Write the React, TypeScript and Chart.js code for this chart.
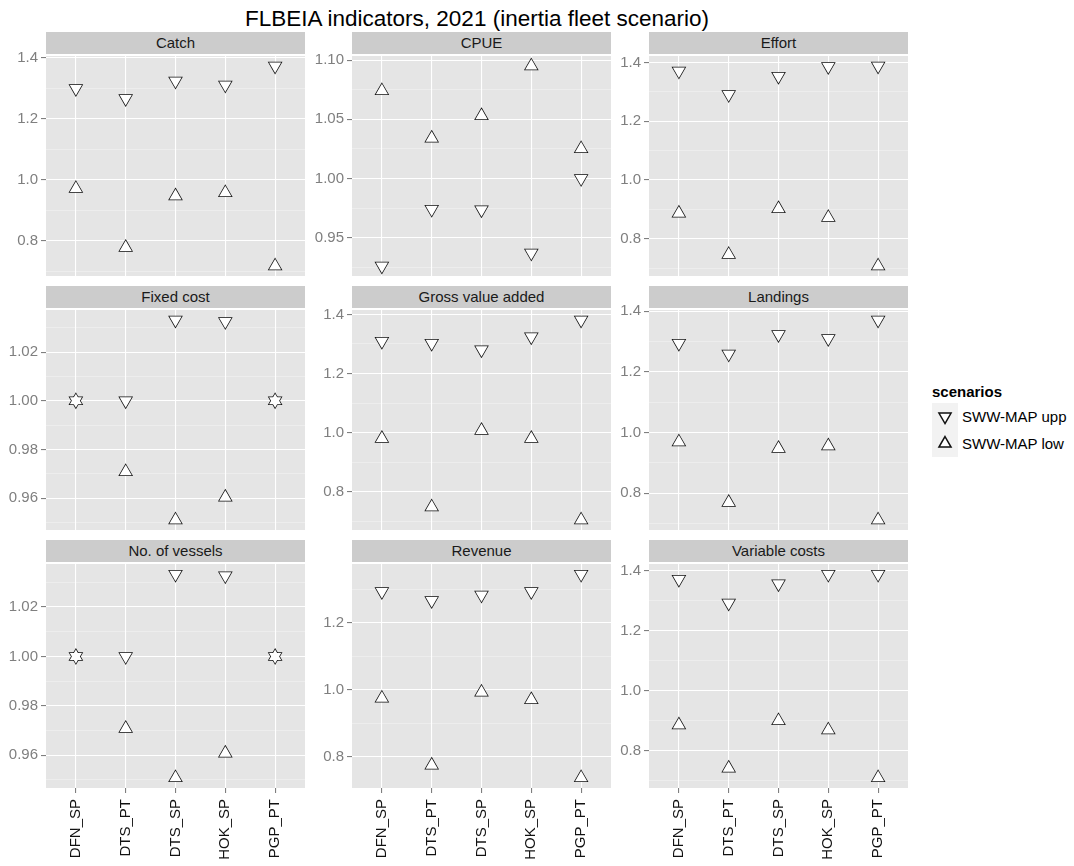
import React, { useEffect, useRef } from "react";
import { Chart, registerables } from "chart.js";
Chart.register(...registerables);

const FONT = "'Liberation Sans', Arial, Helvetica, sans-serif";
Chart.defaults.font.family = FONT;

const TITLE = "FLBEIA indicators, 2021 (inertia fleet scenario)";
const LEGEND_TITLE = "scenarios";
const FLEETS = ["DFN_SP", "DTS_PT", "DTS_SP", "HOK_SP", "PGP_PT"];
const SCENARIOS = ["SWW-MAP upp", "SWW-MAP low"];
const INDICATORS = [
  "Catch", "CPUE", "Effort",
  "Fixed cost", "Gross value added", "Landings",
  "No. of vessels", "Revenue", "Variable costs",
];

// values per indicator: [DFN_SP, DTS_PT, DTS_SP, HOK_SP, PGP_PT]
const catchUpp = [1.299, 1.266, 1.324, 1.311, 1.373];
const catchLow = [0.971, 0.778, 0.947, 0.957, 0.717];
const cpueUpp = [0.926, 0.974, 0.9735, 0.937, 1.0];
const cpueLow = [1.074, 1.034, 1.053, 1.095, 1.025];
const effortUpp = [1.371, 1.291, 1.353, 1.386, 1.388];
const effortLow = [0.887, 0.746, 0.902, 0.872, 0.707];
const fixedCostUpp = [1.0, 1.0, 1.0332, 1.0326, 1.0];
const fixedCostLow = [1.0, 0.9708, 0.951, 0.9604, 1.0];
const gvaUpp = [1.309, 1.302, 1.28, 1.324, 1.381];
const gvaLow = [0.98, 0.748, 1.007, 0.98, 0.704];
const landingsUpp = [1.294, 1.259, 1.323, 1.31, 1.371];
const landingsLow = [0.969, 0.77, 0.948, 0.956, 0.712];
const vesselsUpp = [1.0, 1.0, 1.0333, 1.0327, 1.0];
const vesselsLow = [1.0, 0.9708, 0.9508, 0.9608, 1.0];
const revenueUpp = [1.294, 1.267, 1.284, 1.294, 1.346];
const revenueLow = [0.974, 0.774, 0.992, 0.97, 0.736];
const varCostUpp = [1.371, 1.292, 1.356, 1.388, 1.388];
const varCostLow = [0.886, 0.742, 0.9, 0.869, 0.71];

const UPP = [catchUpp, cpueUpp, effortUpp, fixedCostUpp, gvaUpp, landingsUpp, vesselsUpp, revenueUpp, varCostUpp];
const LOW = [catchLow, cpueLow, effortLow, fixedCostLow, gvaLow, landingsLow, vesselsLow, revenueLow, varCostLow];
const MAJOR_STEPS = [0.2, 0.05, 0.2, 0.02, 0.2, 0.2, 0.02, 0.2, 0.2];

// layout
const COL_LEFT = [46, 352, 649];
const AXIS_W = [46, 47, 38];
const PANEL_W = 259;
const STRIP_TOP = [32, 286, 540];
const STRIP_H = 22;
const PLOT_H = 226;
const PAD_T = 10;
const PAD_B = 8;
const BOTTOM_H = 78;

const PANEL_BG = "#E5E5E5";
const STRIP_BG = "#CCCCCC";
const MINOR_GRID = "#F2F2F2";
const AXIS_GREY = "#7F7F7F";
const MARK = "#111111";

const bgPlugin = {
  id: "panelBg",
  beforeDraw(chart: any) {
    const { ctx, chartArea: a } = chart;
    ctx.save();
    ctx.fillStyle = PANEL_BG;
    ctx.fillRect(a.left, a.top, a.right - a.left, a.bottom - a.top);
    ctx.restore();
  },
};

function Panel({ idx }: { idx: number }) {
  const ref = useRef<HTMLCanvasElement>(null);
  const col = idx % 3;
  const row = Math.floor(idx / 3);
  const bottomAxis = row === 2;
  const plotTop = STRIP_TOP[row] + STRIP_H;
  const cw = AXIS_W[col] + PANEL_W;
  const ch = PAD_T + PLOT_H + (bottomAxis ? BOTTOM_H : PAD_B);

  useEffect(() => {
    const upp = UPP[idx];
    const low = LOW[idx];
    const lo = Math.min(...upp, ...low);
    const hi = Math.max(...upp, ...low);
    const pad = (hi - lo) * 0.05;
    const major = MAJOR_STEPS[idx];
    const minor = major / 2;
    const dec = major < 0.1 ? 2 : 1;
    const isMajor = (v: number) => Math.abs(v / major - Math.round(v / major)) < 1e-6;
    const pts = (arr: number[]) => arr.map((y, i) => ({ x: i, y }));
    const mk = (label: string, arr: number[], rot: number, fill: boolean) => ({
      label,
      data: pts(arr),
      showLine: false,
      pointStyle: "triangle",
      rotation: rot,
      pointRadius: 7,
      pointHoverRadius: 7,
      pointBackgroundColor: fill ? "#FFFFFF" : "rgba(0,0,0,0)",
      pointBorderColor: MARK,
      pointBorderWidth: fill ? 0 : 1.5,
    });
    const chart = new Chart(ref.current as HTMLCanvasElement, {
      type: "scatter",
      data: {
        datasets: [
          mk(SCENARIOS[0], upp, 180, true),
          mk(SCENARIOS[1], low, 0, true),
          mk(SCENARIOS[0], upp, 180, false),
          mk(SCENARIOS[1], low, 0, false),
        ],
      },
      options: {
        animation: false,
        responsive: false,
        maintainAspectRatio: false,
        events: [],
        layout: {
          autoPadding: false,
          padding: { top: PAD_T, bottom: bottomAxis ? 0 : PAD_B, left: 0, right: 0 },
        },
        plugins: { legend: { display: false }, tooltip: { enabled: false } },
        scales: {
          x: {
            type: "linear",
            min: -0.6,
            max: FLEETS.length - 1 + 0.6,
            afterBuildTicks: (s: any) => {
              s.ticks = FLEETS.map((_, i) => ({ value: i }));
            },
            afterFit: (s: any) => {
              s.height = bottomAxis ? BOTTOM_H : 0;
            },
            border: { display: false },
            grid: {
              color: "#FFFFFF",
              lineWidth: 1.1,
              drawTicks: bottomAxis,
              tickLength: 5,
              tickColor: AXIS_GREY,
              tickWidth: 1.1,
            },
            ticks: {
              display: bottomAxis,
              autoSkip: false,
              minRotation: 90,
              maxRotation: 90,
              padding: 6,
              color: "#111111",
              font: { size: 15, family: FONT },
              callback: (v: any) => FLEETS[Math.round(Number(v))],
            },
          },
          y: {
            type: "linear",
            min: lo - pad,
            max: hi + pad,
            afterBuildTicks: (s: any) => {
              const t: any[] = [];
              const k0 = Math.ceil((s.min - 1e-9) / minor);
              const k1 = Math.floor((s.max + 1e-9) / minor);
              for (let k = k0; k <= k1; k++) t.push({ value: Math.round(k * minor * 1e6) / 1e6 });
              s.ticks = t;
            },
            afterFit: (s: any) => {
              s.width = AXIS_W[col];
            },
            border: { display: false },
            grid: {
              z: -2,
              color: (c: any) => (isMajor(c.tick.value) ? "#FFFFFF" : MINOR_GRID),
              lineWidth: (c: any) => (isMajor(c.tick.value) ? 1.1 : 0.6),
              tickColor: (c: any) => (isMajor(c.tick.value) ? AXIS_GREY : "rgba(0,0,0,0)"),
              tickLength: 5,
              tickWidth: 1.1,
            },
            ticks: {
              autoSkip: false,
              padding: 3,
              color: AXIS_GREY,
              font: { size: 15, family: FONT },
              callback: (v: any) => (isMajor(Number(v)) ? Number(v).toFixed(dec) : ""),
            },
          },
        },
      } as any,
      plugins: [bgPlugin],
    });
    return () => chart.destroy();
  }, [idx]);

  return (
    <>
      <div
        style={{
          position: "absolute",
          left: COL_LEFT[col],
          top: STRIP_TOP[row],
          width: PANEL_W,
          height: STRIP_H,
          background: STRIP_BG,
          color: "#1A1A1A",
          font: `15px ${FONT}`,
          lineHeight: `${STRIP_H}px`,
          textAlign: "center",
          whiteSpace: "nowrap",
        }}
      >
        {INDICATORS[idx]}
      </div>
      <canvas
        ref={ref}
        width={cw}
        height={ch}
        style={{
          position: "absolute",
          left: COL_LEFT[col] - AXIS_W[col],
          top: plotTop - PAD_T,
          width: cw,
          height: ch,
        }}
      />
    </>
  );
}

function LegendKey({ down }: { down: boolean }) {
  const cx = 13, cy = 13.5, r = 7;
  const s = down ? -1 : 1;
  const p = [
    [cx, cy - s * r],
    [cx + r * Math.sin((2 * Math.PI) / 3), cy + s * r / 2],
    [cx - r * Math.sin((2 * Math.PI) / 3), cy + s * r / 2],
  ]
    .map((q) => q.join(","))
    .join(" ");
  return (
    <svg width={26} height={27} style={{ display: "block", background: "#F2F2F2" }}>
      <polygon points={p} fill="#FFFFFF" stroke={MARK} strokeWidth={1.5} />
    </svg>
  );
}

export default function App() {
  return (
    <div
      style={{
        position: "absolute",
        left: 0,
        top: 0,
        width: 1074,
        height: 866,
        overflow: "hidden",
        background: "#FFFFFF",
        fontFamily: FONT,
      }}
    >
      <div
        style={{
          position: "absolute",
          left: COL_LEFT[0],
          top: 8,
          width: COL_LEFT[2] + PANEL_W - COL_LEFT[0],
          textAlign: "center",
          font: `22.5px ${FONT}`,
          lineHeight: "22px",
          color: "#000000",
          whiteSpace: "nowrap",
        }}
      >
        {TITLE}
      </div>
      {INDICATORS.map((_, i) => (
        <Panel key={i} idx={i} />
      ))}
      <div
        style={{
          position: "absolute",
          left: 932,
          top: 384,
          font: `bold 15px ${FONT}`,
          lineHeight: "15px",
          color: "#000000",
        }}
      >
        {LEGEND_TITLE}
      </div>
      {SCENARIOS.map((s, i) => (
        <div
          key={s}
          style={{
            position: "absolute",
            left: 932,
            top: 403 + i * 27,
            height: 27,
            display: "flex",
            alignItems: "center",
          }}
        >
          <LegendKey down={i === 0} />
          <span style={{ marginLeft: 4, font: `15px ${FONT}`, color: "#000000", whiteSpace: "nowrap" }}>{s}</span>
        </div>
      ))}
    </div>
  );
}
